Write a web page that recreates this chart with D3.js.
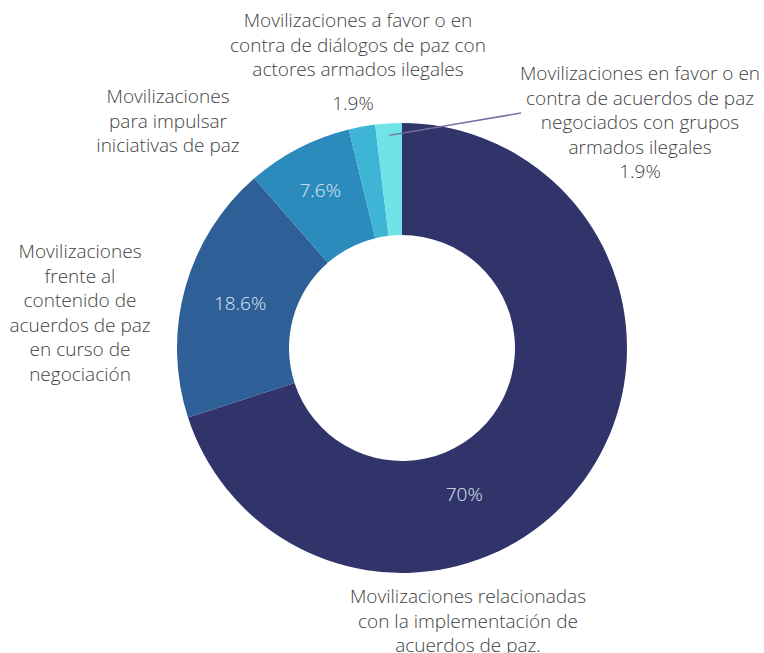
<!DOCTYPE html>
<html>
<head>
<meta charset="utf-8">
<script src="https://d3js.org/d3.v7.min.js"></script>
<style>
  body { margin: 0; background: #fff; }
  text { font-family: "Open Sans", sans-serif; font-weight: 300; }
</style>
</head>
<body>
<svg id="donut" width="764" height="653"></svg>
<script>

// data, clockwise from 12 o'clock
var categories = [
  "Movilizaciones relacionadas con la implementación de acuerdos de paz.",
  "Movilizaciones frente al contenido de acuerdos de paz en curso de negociación",
  "Movilizaciones para impulsar iniciativas de paz",
  "Movilizaciones a favor o en contra de diálogos de paz con actores armados ilegales",
  "Movilizaciones en favor o en contra de acuerdos de paz negociados con grupos armados ilegales"
];
var values = [70, 18.6, 7.6, 1.9, 1.9];
var valueLabels = ["70%", "18.6%", "7.6%", "1.9%", "1.9%"];
var colors = ["#30346a", "#2e5f97", "#2c8bbd", "#3fb5d6", "#6ee3e8"];

// how the category names wrap
var labelLines = [
  ["Movilizaciones relacionadas", "con la implementación de", "acuerdos de paz."],
  ["Movilizaciones", "frente al", "contenido de", "acuerdos de paz", "en curso de", "negociación"],
  ["Movilizaciones", "para impulsar", "iniciativas de paz"],
  ["Movilizaciones a favor o en", "contra de diálogos de paz con", "actores armados ilegales"],
  ["Movilizaciones en favor o en", "contra de acuerdos de paz", "negociados con grupos", "armados ilegales", "1.9%"]
];

var svg = d3.select("#donut");
var cx = 402, cy = 348;
var outerR = 225, innerR = 113;
var lineH = 24.5;
var fontSize = "19px";

var pie = d3.pie().sort(null).value(d => d);
var arcs = pie(values);

var arc = d3.arc().innerRadius(innerR).outerRadius(outerR);

var g = svg.append("g").attr("transform", "translate(" + cx + "," + cy + ")");

g.selectAll("path.slice")
  .data(arcs)
  .enter().append("path")
    .attr("class", "slice")
    .attr("d", arc)
    .attr("fill", (d, i) => colors[i]);

///////////////////////
// value labels inside the ring
var labelShift = [0.086, 0, 0, 0, 0]; // the big one sits lower than its middle (fraction of a turn)
var labelR = [159, 168, 178];

[0, 1, 2].forEach(function(i) {
  var a = arcs[i];
  var mid = (a.startAngle + a.endAngle) / 2 + labelShift[i] * 2 * Math.PI;
  var r = labelR[i];
  g.append("text")
    .text(valueLabels[i])
    .attr("x", r * Math.sin(mid))
    .attr("y", -r * Math.cos(mid))
    .attr("dy", "0.35em")
    .attr("text-anchor", "middle")
    .style("font-size", fontSize)
    .attr("fill", "#dfe6f0");
});

///////////////////////
// category labels outside
var outside = [
  { x: 468, y: 603 },
  { x: 80, y: 258 },
  { x: 168, y: 103 },
  { x: 358, y: 27 },
  { x: 640, y: 80 }
];

labelLines.forEach(function(lines, i) {
  var t = svg.append("text")
    .attr("text-anchor", "middle")
    .attr("fill", "#3f3f3f")
    .style("font-size", fontSize);
  lines.forEach(function(l, j) {
    t.append("tspan")
      .attr("x", outside[i].x)
      .attr("y", outside[i].y + j * lineH)
      .text(l);
  });
});

// 1.9% under the top-middle label
svg.append("text")
  .text(valueLabels[3])
  .attr("x", 353)
  .attr("y", 110)
  .attr("text-anchor", "middle")
  .attr("fill", "#3f3f3f")
  .style("font-size", fontSize);

// leader line from the last slice
var last = arcs[4];
var lm = (last.startAngle + last.endAngle) / 2;
var lr = outerR - 12;
svg.append("line")
  .attr("x1", cx + lr * Math.sin(lm))
  .attr("y1", cy - lr * Math.cos(lm))
  .attr("x2", 521)
  .attr("y2", 113)
  .attr("stroke", "#7a70a3")
  .attr("stroke-width", 1.5);

</script>
</body>
</html>
